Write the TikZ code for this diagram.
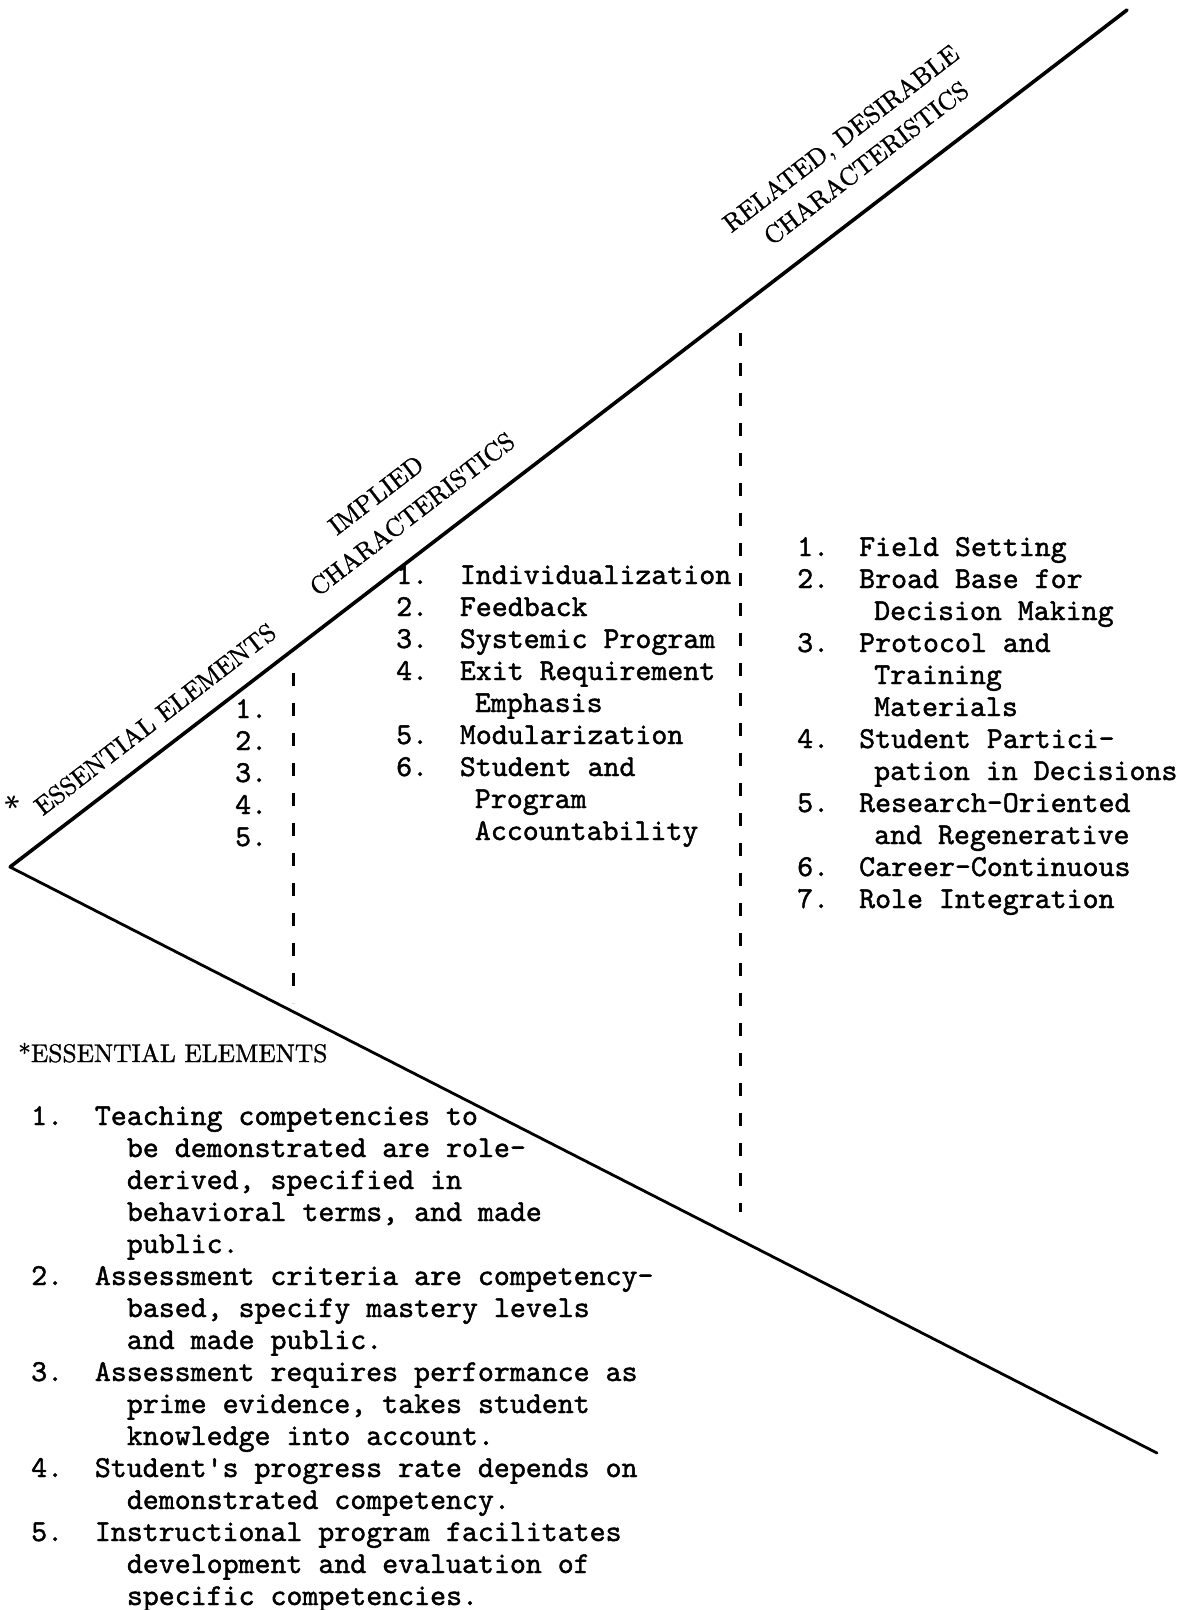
\documentclass[tikz,border=0pt]{standalone}
\usepackage{fontspec}
\newfontfamily\twfam{lmmono10-regular.otf}[FakeBold=1.4]
\newfontfamily\capfam{lmroman10-regular.otf}[FakeBold=1.2]
\newcommand\twfont{\twfam\fontsize{30.4}{32}\selectfont}
\newcommand\capfont{\capfam\fontsize{25.5}{30}\selectfont}
\newcommand\nb[1]{\makebox[63.7pt][l]{#1}}
\newcommand\nr[1]{\makebox[62pt][l]{#1}}
\newcommand\ind[1]{\hspace*{#1}}
\begin{document}
\begin{tikzpicture}[x=1pt,y=-1pt,
  upline/.style={line width=3.6pt, line cap=round},
  lowline/.style={line width=2.8pt, line cap=round},
  divider/.style={line width=3pt, dash pattern=on 13pt off 17pt},
  lbl/.style={font=\capfont, rotate=37.5, inner sep=0pt},
  itemlist/.style={font=\twfont, anchor=base west, inner sep=0pt},
]
\useasboundingbox[fill=white] (0,0) rectangle (1182,1610);
\coordinate (apex) at (10,867);
\coordinate (ue) at (1127,10);
\coordinate (le) at (1157,1453);
\coordinate (d1a) at (293,673);
\coordinate (d1b) at (293,1003);
\coordinate (d2a) at (740,333);
\coordinate (d2b) at (740,1212);
\draw[upline] (apex) -- (ue);
\draw[lowline] (apex) -- (le);
\draw[divider] (d1a) -- (d1b);
\draw[divider] (d2a) -- (d2b);

% rotated headings
\node[lbl, font=\capfam\fontsize{32}{36}\selectfont] (ast) at (15,806) {*};
\node[lbl] (ee) at (155,719) {ESSENTIAL ELEMENTS};
\node[lbl] (imp1) at (376,495) {IMPLIED};
\node[lbl] (imp2) at (412,514) {CHARACTERISTICS};
\node[lbl] (rel1) at (842,140) {RELATED, DESIRABLE};
\node[lbl] (rel2) at (866,163) {CHARACTERISTICS};

% numbers in the essential zone
\node[itemlist] (enums) at (235,718) {\begin{tabular}[t]{@{}l@{}}1.\\2.\\3.\\4.\\5.\end{tabular}};

% implied characteristics
\node[itemlist] (impl) at (396,584) {\begin{tabular}[t]{@{}l@{}}
\nb{1.}Individualization\\
\nb{2.}Feedback\\
\nb{3.}Systemic Program\\
\nb{4.}Exit Requirement\\
\nb{}\ind{15pt}Emphasis\\
\nb{5.}Modularization\\
\nb{6.}Student and\\
\nb{}\ind{15pt}Program\\
\nb{}\ind{15pt}Accountability
\end{tabular}};

% related, desirable characteristics
\node[itemlist] (rel) at (797,556) {\begin{tabular}[t]{@{}l@{}}
\nr{1.}Field Setting\\
\nr{2.}Broad Base for\\
\nr{}\ind{15pt}Decision Making\\
\nr{3.}Protocol and\\
\nr{}\ind{15pt}Training\\
\nr{}\ind{15pt}Materials\\
\nr{4.}Student Partici-\\
\nr{}\ind{15pt}pation in Decisions\\
\nr{5.}Research-Oriented\\
\nr{}\ind{15pt}and Regenerative\\
\nr{6.}Career-Continuous\\
\nr{7.}Role Integration
\end{tabular}};

% footnote block
\node[anchor=base west, font=\capfont, inner sep=0pt] (eeh) at (18,1062) {*ESSENTIAL ELEMENTS};
\node[itemlist] (ess) at (31,1125) {\begin{tabular}[t]{@{}l@{}}
\nb{1.}Teaching competencies to\\
\nb{}\ind{32pt}be demonstrated are role-\\
\nb{}\ind{32pt}derived, specified in\\
\nb{}\ind{32pt}behavioral terms, and made\\
\nb{}\ind{32pt}public.\\
\nb{2.}Assessment criteria are competency-\\
\nb{}\ind{32pt}based, specify mastery levels\\
\nb{}\ind{32pt}and made public.\\
\nb{3.}Assessment requires performance as\\
\nb{}\ind{32pt}prime evidence, takes student\\
\nb{}\ind{32pt}knowledge into account.\\
\nb{4.}Student\textquotesingle s progress rate depends on\\
\nb{}\ind{32pt}demonstrated competency.\\
\nb{5.}Instructional program facilitates\\
\nb{}\ind{32pt}development and evaluation of\\
\nb{}\ind{32pt}specific competencies.
\end{tabular}};
\end{tikzpicture}
\end{document}
